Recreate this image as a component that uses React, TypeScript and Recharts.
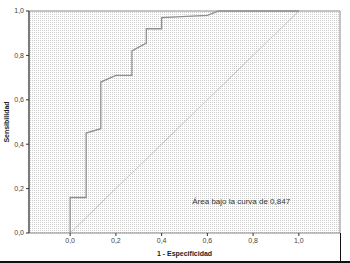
import { LineChart, Line, XAxis, YAxis, ReferenceArea, ReferenceDot } from "recharts";

// curva ROC (1 - especificidad, sensibilidad)
const FPR = [0, 0, 0.07, 0.07, 0.134, 0.134, 0.2, 0.27, 0.27, 0.333, 0.333, 0.4, 0.4, 0.6, 0.65, 1];
const TPR = [0, 0.16, 0.16, 0.45, 0.47, 0.68, 0.71, 0.71, 0.82, 0.855, 0.92, 0.92, 0.97, 0.98, 1, 1];
const DIAG_X = [0, 1];
const DIAG_Y = [0, 1];
const X_TICKS = [0, 0.2, 0.4, 0.6, 0.8, 1.0];
const Y_TICKS = [0, 0.2, 0.4, 0.6, 0.8, 1.0];
const AUC_TEXT = "Área bajo la curva de 0,847";

const rocData = FPR.map((x, i) => ({ x, y: TPR[i] }));
const diagData = DIAG_X.map((x, i) => ({ x, y: DIAG_Y[i] }));

const fmt = (v: number) => v.toFixed(1).replace(".", ",");
const FONT = "'Liberation Sans', Arial, sans-serif";

export default function App() {
  return (
    <div style={{ position: "relative", width: 350, height: 263, background: "#fff" }}>
      <style>{`body{margin:0}`}</style>
      <LineChart width={350} height={263} margin={{ top: 11, right: 10, bottom: 0, left: 0 }}>
        <defs>
          <pattern id="dots" width="2" height="2" patternUnits="userSpaceOnUse">
            <rect width="2" height="2" fill="#ffffff" />
            <rect width="1" height="1" fill="#cdcdcd" />
          </pattern>
        </defs>
        <XAxis
          type="number"
          dataKey="x"
          domain={[-0.18, 1.18]}
          ticks={X_TICKS}
          tickFormatter={fmt}
          allowDuplicatedCategory={false}
          height={30}
          axisLine={false}
          tickLine={{ stroke: "#333" }}
          tickSize={3}
          tick={{ fontSize: 7, fill: "#444", fontFamily: FONT }}
          label={{ value: "1 - Especificidad", position: "insideBottom", offset: 7, fontSize: 7, fontWeight: "bold", fill: "#222", fontFamily: FONT }}
        />
        <YAxis
          type="number"
          dataKey="y"
          domain={[0, 1]}
          ticks={Y_TICKS}
          tickFormatter={fmt}
          width={29}
          axisLine={{ stroke: "#333" }}
          tickLine={{ stroke: "#333" }}
          tickSize={3}
          tick={{ fontSize: 7, fill: "#444", fontFamily: FONT }}
          label={(props: any) => {
            const vb = props.viewBox;
            const cy = vb.y + vb.height / 2;
            return (
              <text x={9} y={cy} transform={`rotate(-90, 9, ${cy})`} textAnchor="middle" fontSize={7} fontWeight="bold" fill="#222" fontFamily={FONT}>
                Sensibilidad
              </text>
            );
          }}
        />
        <ReferenceArea x1={-0.18} x2={1.18} y1={0} y2={1} fill="url(#dots)" fillOpacity={1} stroke="#888" strokeWidth={1} ifOverflow="extendDomain" />
        <Line data={diagData} dataKey="y" type="linear" stroke="#c2c2c2" strokeWidth={1} dot={false} isAnimationActive={false} />
        <Line data={rocData} dataKey="y" type="linear" stroke="#8f8f8f" strokeWidth={1.3} dot={false} isAnimationActive={false} />
        <ReferenceDot
          x={0.534}
          y={0.144}
          r={0}
          fill="none"
          stroke="none"
          label={(props: any) => (
            <text x={props.viewBox.x} y={props.viewBox.y} dy={3} fontSize={8} fill="#333" fontFamily={FONT} textAnchor="start">
              {AUC_TEXT}
            </text>
          )}
        />
      </LineChart>
      <div style={{ position: "absolute", left: 0, right: 0, top: 261, height: 2, background: "#111" }} />
      <div style={{ position: "absolute", left: 340, width: 1, top: 233, height: 30, background: "#111" }} />
    </div>
  );
}
